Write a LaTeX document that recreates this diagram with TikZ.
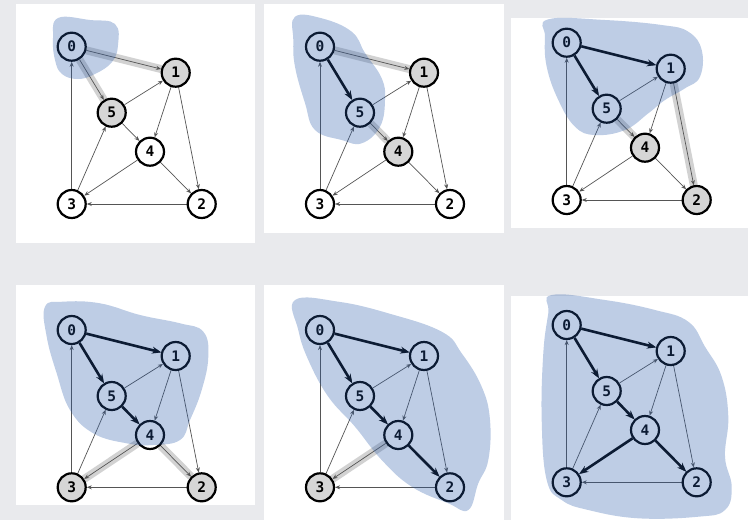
\documentclass[tikz,border=0pt]{standalone}
\usepackage{fontspec}
\newfontfamily\labfont{DejaVu Sans Mono}
\usetikzlibrary{arrows.meta,calc}
\definecolor{bgc}{HTML}{E9EAED}
\definecolor{blobc}{RGB}{40,90,170}
\definecolor{nodegray}{RGB}{214,214,214}
\definecolor{edgec}{RGB}{85,85,85}
\pgfdeclarelayer{panel}
\pgfdeclarelayer{bands}
\pgfdeclarelayer{edges}
\pgfsetlayers{panel,bands,edges,main}
\tikzset{
  vx/.style={circle,draw=black,line width=2.2pt,fill=white,minimum size=28pt,inner sep=0pt,font=\labfont\bfseries\fontsize{14.5}{14.5}\selectfont},
  v0/.style={},v1/.style={},v2/.style={},v3/.style={},v4/.style={},v5/.style={},
  thinedge/.style={draw=edgec,line width=0.7pt,-{Stealth[length=5pt,width=4pt]}},
  thickedge/.style={draw=black,line width=2.6pt,-{Stealth[length=9pt,width=7pt]}},
  band/.style={draw=gray,line width=8pt,draw opacity=0.35},
  blob/.style={fill=blobc,fill opacity=0.3},
  panelbox/.style={fill=white}
}
\newcommand\gnodes[2]{%
  \foreach \n/\dx/\dy in {0/0/0,1/104/26,5/40/66,4/78.3/105,3/0/157.3,2/130/157.3}
    \node[vx,v\n] (#1-\n) at ($(#2)+(\dx,\dy)$) {\n};
  \begin{pgfonlayer}{edges}
  \foreach \a/\b in {0/1,0/5,5/1,5/4,1/4,1/2,4/2,4/3,3/5,3/0,2/3}
    \draw[thinedge] (#1-\a) -- (#1-\b);
  \end{pgfonlayer}}
\begin{document}
\begin{tikzpicture}[x=1pt,y=-1pt]
\useasboundingbox (0,0) rectangle (748,520);
\begin{pgfonlayer}{panel}
\fill[bgc] (0,0) rectangle (748,520);
\fill[panelbox] (16,4) rectangle (255,243);
\fill[panelbox] (264,4) rectangle (504,233);
\fill[panelbox] (511,18) rectangle (748,228);
\fill[panelbox] (16,285) rectangle (255,505);
\fill[panelbox] (264,285) rectangle (504,520);
\fill[panelbox] (511,296) rectangle (748,520);
\end{pgfonlayer}

% ---------- panel 1
\begin{scope}[v1/.style={fill=nodegray},v5/.style={fill=nodegray}]
\gnodes{a}{71.7,46.7}
\end{scope}
\begin{pgfonlayer}{bands}
\draw[band] (a-0) -- (a-1);
\draw[band] (a-0) -- (a-5);
\end{pgfonlayer}
\fill[blob] plot[smooth cycle,tension=0.7] coordinates {(58,18) (90,20) (115,24) (118,45) (112,62) (95,74) (78,79) (62,74) (55,60) (53,38)};

% ---------- panel 2
\begin{scope}[v1/.style={fill=nodegray},v4/.style={fill=nodegray}]
\gnodes{b}{320,46.7}
\end{scope}
\begin{pgfonlayer}{bands}
\draw[band] (b-0) -- (b-1);
\draw[band] (b-5) -- (b-4);
\end{pgfonlayer}
\begin{pgfonlayer}{edges}
\draw[thickedge] (b-0) -- (b-5);
\end{pgfonlayer}
\fill[blob] plot[smooth cycle,tension=0.7] coordinates {(295,16.7) (321.7,18.3) (351.7,31.7) (365,53) (381.7,78.3) (385,100) (380,126.7) (361.7,143.3) (341.7,140) (315,130) (305,103) (295,66.7) (293.3,40)};

% ---------- panel 3
\begin{scope}[v4/.style={fill=nodegray},v2/.style={fill=nodegray}]
\gnodes{c}{566.7,42.7}
\end{scope}
\begin{pgfonlayer}{bands}
\draw[band] (c-5) -- (c-4);
\draw[band] (c-1) -- (c-2);
\end{pgfonlayer}
\begin{pgfonlayer}{edges}
\draw[thickedge] (c-0) -- (c-1);
\draw[thickedge] (c-0) -- (c-5);
\end{pgfonlayer}
\fill[blob] plot[smooth cycle,tension=0.7] coordinates {(548.3,19.3) (605,20) (661.7,25) (688.3,31.7) (701.7,50) (700,76.7) (685,88.3) (665,100) (648.3,113.3) (625,130) (595,135) (575,126.7) (558.3,100) (546.7,66.7) (545,36.7)};

% ---------- panel 4
\begin{scope}[v3/.style={fill=nodegray},v2/.style={fill=nodegray}]
\gnodes{d}{71.7,330}
\end{scope}
\begin{pgfonlayer}{bands}
\draw[band] (d-4) -- (d-3);
\draw[band] (d-4) -- (d-2);
\end{pgfonlayer}
\begin{pgfonlayer}{edges}
\draw[thickedge] (d-0) -- (d-1);
\draw[thickedge] (d-0) -- (d-5);
\draw[thickedge] (d-5) -- (d-4);
\end{pgfonlayer}
\fill[blob] plot[smooth cycle,tension=0.7] coordinates {(45,306.7) (63.3,301.7) (100,303.3) (140,315) (180,323.3) (203.3,331.7) (208.3,356.7) (201.7,390) (190,420) (180,440) (153.3,445) (126.7,443.3) (93.3,433.3) (70,410) (56.7,373.3) (46.7,336.7)};

% ---------- panel 5
\begin{scope}[v3/.style={fill=nodegray}]
\gnodes{e}{320,330}
\end{scope}
\begin{pgfonlayer}{bands}
\draw[band] (e-4) -- (e-3);
\end{pgfonlayer}
\begin{pgfonlayer}{edges}
\draw[thickedge] (e-0) -- (e-1);
\draw[thickedge] (e-0) -- (e-5);
\draw[thickedge] (e-5) -- (e-4);
\draw[thickedge] (e-4) -- (e-2);
\end{pgfonlayer}
\fill[blob] plot[smooth cycle,tension=0.7] coordinates {(295,300) (338.3,301.7) (388.3,313.3) (441.7,331.7) (461.7,353.3) (481.7,386.7) (490,420) (488.3,460) (478.3,483.3) (468.3,510) (448.3,503.3) (411.7,486.7) (381.7,460) (355,426.7) (328.3,396.7) (308.3,360) (298.3,330)};

% ---------- panel 6
\gnodes{f}{566.7,325}
\begin{pgfonlayer}{edges}
\draw[thickedge] (f-0) -- (f-1);
\draw[thickedge] (f-0) -- (f-5);
\draw[thickedge] (f-5) -- (f-4);
\draw[thickedge] (f-4) -- (f-2);
\draw[thickedge] (f-4) -- (f-3);
\end{pgfonlayer}
\fill[blob] plot[smooth cycle,tension=0.7] coordinates {(551.7,295) (605,300) (655,310) (688.3,321.7) (705,346.7) (721.7,376.7) (728.3,416.7) (725,456.7) (731.7,486.7) (725,510) (698.3,516.7) (638.3,518.3) (588.3,510) (561.7,500) (546.7,480) (541.7,420) (543.3,353.3) (548.3,313.3)};
\end{tikzpicture}
\end{document}
